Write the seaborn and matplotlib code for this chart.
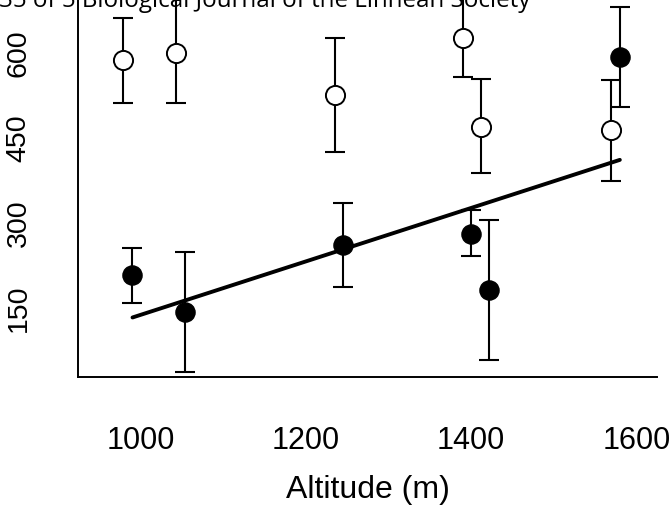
import matplotlib
matplotlib.use("Agg")
import matplotlib.pyplot as plt
import seaborn as sns
import numpy as np
import pandas as pd

# Data
open_alt = [979, 1043, 1235, 1390, 1412, 1569]
open_val = [587, 600, 525, 626, 469, 464]
open_lo = [511, 512, 425, 557, 387, 374]
open_hi = [661, 720, 626, 720, 553, 552]

filled_alt = [989, 1054, 1245, 1400, 1422, 1580]
filled_val = [208, 143, 260, 281, 181, 592]
filled_lo = [159, 37, 187, 241, 58, 505]
filled_hi = [255, 248, 335, 323, 305, 681]

line_alt = [990, 1580]
line_val = [133, 411]

xticks = [1000, 1200, 1400, 1600]
yticks = [150, 300, 450, 600]
xlabel = "Altitude (m)"
header = "35 of 5 Biological Journal of the Linnean Society"

sns.set_style("white")
plt.rcParams['font.family'] = ['Liberation Sans', 'DejaVu Sans']

fig = plt.figure(figsize=(6.69, 5.08), dpi=100)
ax = fig.add_axes([78/669, 1-377/508, (657-78)/669, 377/508])

df_open = pd.DataFrame({"alt": open_alt, "val": open_val})
df_fill = pd.DataFrame({"alt": filled_alt, "val": filled_val})

lw = 1.5
for alt, v, lo, hi in zip(open_alt, open_val, open_lo, open_hi):
    ax.errorbar([alt], [v], yerr=[[v - lo], [hi - v]], fmt='none', ecolor='black',
                elinewidth=lw, capsize=7, capthick=lw, zorder=1)
for alt, v, lo, hi in zip(filled_alt, filled_val, filled_lo, filled_hi):
    ax.errorbar([alt], [v], yerr=[[v - lo], [hi - v]], fmt='none', ecolor='black',
                elinewidth=lw, capsize=7, capthick=lw, zorder=1)

sns.lineplot(x=line_alt, y=line_val, ax=ax, color='black', linewidth=2.8, zorder=2)

sns.scatterplot(data=df_open, x="alt", y="val", ax=ax, s=190, marker='o',
                facecolor='white', edgecolor='black', linewidth=1.4, zorder=3)
sns.scatterplot(data=df_fill, x="alt", y="val", ax=ax, s=190, marker='o',
                color='black', edgecolor='black', linewidth=1.0, zorder=3)

ax.set_xlim(924, 1625)
ax.set_ylim(28, 693)
ax.set_xticks(xticks)
ax.set_yticks(yticks)
ax.set_xticklabels([str(t) for t in xticks])
ax.set_yticklabels([str(t) for t in yticks], rotation=90, va='center')
ax.tick_params(axis='both', direction='out', length=14, width=1.4,
               color='black', labelcolor='black')
ax.tick_params(axis='x', pad=21, labelsize=22)
ax.tick_params(axis='y', pad=19.5, labelsize=20.5)
for s in ['top', 'right']:
    ax.spines[s].set_visible(False)
for s in ['left', 'bottom']:
    ax.spines[s].set_color('black')
    ax.spines[s].set_linewidth(1.4)
ax.set_xlabel(xlabel, fontsize=23, labelpad=14, color='black')
ax.set_ylabel("")

fig.text(-0.002, 1 - 7/508, header, fontsize=17.4, family=['Open Sans', 'DejaVu Sans'],
         ha='left', va='baseline', color='black')

fig.savefig("out.png", dpi=100)
